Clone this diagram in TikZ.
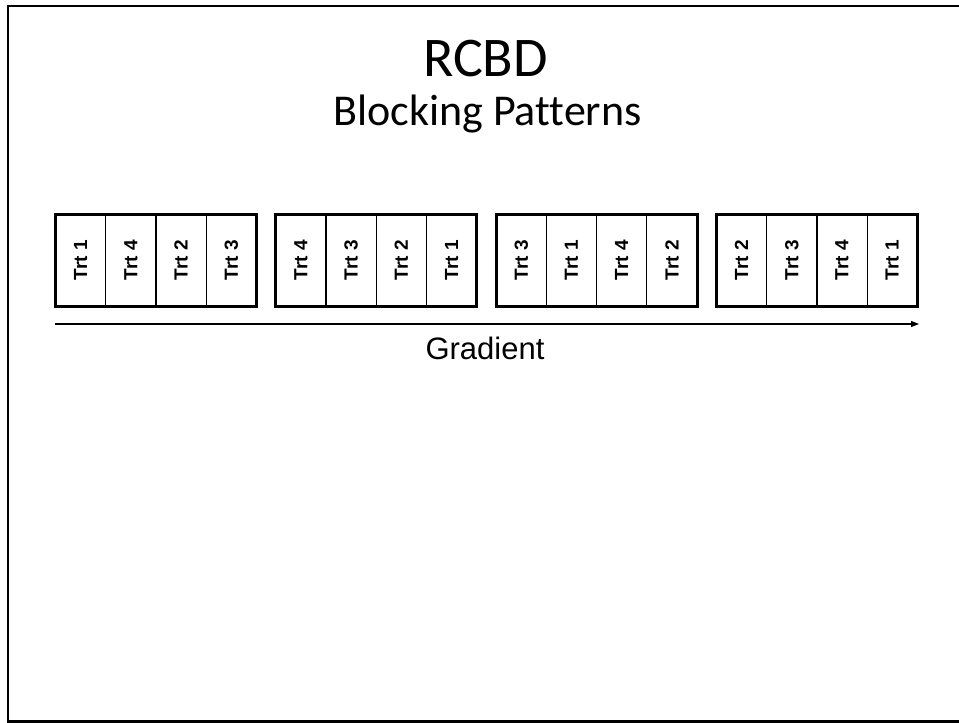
\documentclass[tikz,border=0pt]{standalone}
\usepackage{fontspec}
\setmainfont{Liberation Sans}
\newfontfamily\titlefont[Ligatures=NoCommon]{Carlito}
\usetikzlibrary{arrows.meta}
\begin{document}
\begin{tikzpicture}[x=1pt,y=-1pt,
  cell/.style={draw, line width=1.2pt, minimum width=50.25pt, minimum height=91.5pt,
    inner sep=0pt, outer sep=0pt, anchor=north west,
    font=\fontsize{19}{21}\selectfont\bfseries},
  blockframe/.style={draw, line width=3pt},
  pageframe/.style={line width=2.5pt},
  gradarrow/.style={line width=1.3pt, -{Triangle[length=8pt,width=6pt]}}]
\useasboundingbox (0,0) rectangle (959,723);

% page frame (open on the right)
\draw[pageframe] (965,6) -- (8,6) -- (8,721.5) -- (965,721.5);

% titles
\node[font=\titlefont\fontsize{56}{60}\selectfont, anchor=base, inner sep=0pt] (title) at (485.5,76) {RCBD};
\node[font=\titlefont\fontsize{44}{48}\selectfont, anchor=base, inner sep=0pt] (subtitle) at (487.5,125) {Blocking Patterns};

% blocks of four plots each
\foreach \b/\xa/\trts in {1/55.5/{1,4,2,3}, 2/275.8/{4,3,2,1}, 3/496.1/{3,1,4,2}, 4/716.4/{2,3,4,1}} {
  \foreach \t [count=\i] in \trts {
    \node[cell] (c\b-\i) at ({\xa+(\i-1)*50.25},214.5) {\rotatebox{90}{Trt \t}};
  }
  \draw[blockframe] (c\b-1.north west) rectangle (c\b-4.south east);
}

% gradient arrow
\coordinate (gstart) at (55,324);
\coordinate (gend) at (919,324);
\draw[gradarrow] (gstart) -- (gend);
\node[font=\fontsize{31}{34}\selectfont, anchor=base, inner sep=0pt] (gradlabel) at (485,359) {Gradient};
\end{tikzpicture}
\end{document}
